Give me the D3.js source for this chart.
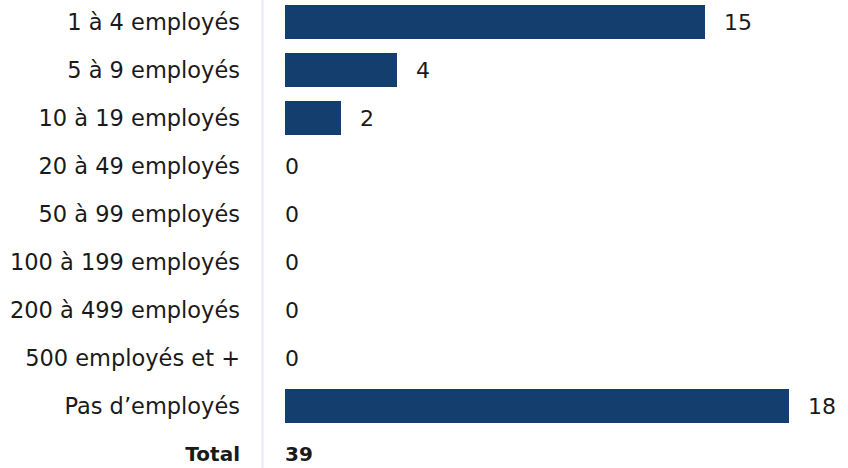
<!DOCTYPE html>
<html>
<head>
<meta charset="utf-8">
<script src="https://cdn.jsdelivr.net/npm/d3@7"></script>
<style>
  html, body { margin: 0; padding: 0; background: #ffffff; }
  svg { display: block; }
  text { font-family: "Century Gothic", "DejaVu Sans", sans-serif; fill: #1a1a1a; }
</style>
</head>
<body>
<svg id="chart" width="848" height="468"></svg>
<script>
// Répartition des entreprises selon la taille
const categories = [
  "1 à 4 employés",
  "5 à 9 employés",
  "10 à 19 employés",
  "20 à 49 employés",
  "50 à 99 employés",
  "100 à 199 employés",
  "200 à 499 employés",
  "500 employés et +",
  "Pas d’employés"
];
const values = [15, 4, 2, 0, 0, 0, 0, 0, 18];
const totalLabel = "Total";
const totalValue = 39;

const width = 848, height = 468;
const svg = d3.select("#chart");

const rows = categories.concat([totalLabel]);
const y = d3.scaleBand()
  .domain(rows)
  .range([-2, 478])
  .paddingInner(14 / 48)
  .paddingOuter(7 / 48);

const x = d3.scaleLinear()
  .domain([0, 18])
  .range([285, 789]);

// séparateur vertical
svg.append("line")
  .attr("x1", 262.5).attr("x2", 262.5)
  .attr("y1", 0).attr("y2", height)
  .attr("stroke", "#e4ecf5")
  .attr("stroke-width", 2);

// libellés de catégories
svg.append("g").selectAll("text")
  .data(rows)
  .join("text")
  .attr("x", 240)
  .attr("y", d => y(d) + y.bandwidth() / 2)
  .attr("dy", "0.35em")
  .attr("text-anchor", "end")
  .style("font-size", d => d === totalLabel ? "20px" : "22.5px")
  .style("font-weight", d => d === totalLabel ? "bold" : "normal")
  .text(d => d);

// barres
svg.append("g").selectAll("rect")
  .data(values)
  .join("rect")
  .attr("x", x(0))
  .attr("y", (d, i) => y(categories[i]))
  .attr("width", d => x(d) - x(0))
  .attr("height", y.bandwidth())
  .attr("fill", "#143e6d");

// valeurs
svg.append("g").selectAll("text")
  .data(values)
  .join("text")
  .attr("x", d => d > 0 ? x(d) + 19 : x(0))
  .attr("y", (d, i) => y(categories[i]) + y.bandwidth() / 2)
  .attr("dy", "0.35em")
  .style("font-size", "22px")
  .text(d => d);

// total
svg.append("text")
  .attr("x", x(0))
  .attr("y", y(totalLabel) + y.bandwidth() / 2)
  .attr("dy", "0.35em")
  .style("font-size", "20px")
  .style("font-weight", "bold")
  .text(totalValue);
</script>
</body>
</html>
